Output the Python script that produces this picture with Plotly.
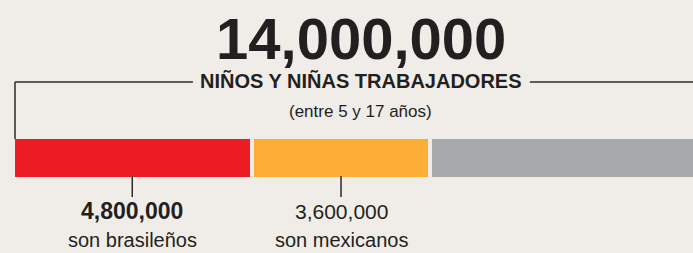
import plotly.graph_objects as go

# ---- data ----
total = 14_000_000
segments = ["Brasil", "México", "Resto"]
values = [4_800_000, 3_600_000, 5_600_000]
colors = ["#ED1C24", "#FBAE33", "#A7A8AA"]
total_label = "14,000,000"
subtitle = "NIÑOS Y NIÑAS TRABAJADORES"
subnote = "(entre 5 y 17 años)"
value_labels = ["4,800,000", "3,600,000"]
desc_labels = ["son brasileños", "son mexicanos"]
label_bold = [True, False]

BG = "#F0EDE8"
INK = "#231F20"
W, H = 693, 253
FONT = "Liberation Sans, Arial, sans-serif"

# scale (in millions)
vals_m = [v / 1e6 for v in values]
total_m = total / 1e6
x0_px, px_per = 13.0, 49.7
xrange = [-x0_px / px_per, (W - x0_px) / px_per]

# bar vertical placement: bar y=0, width 1 -> pixel 137..179
ycenter_px, px_per_y = 158.0, 42.0
yrange = [(ycenter_px - H) / px_per_y, ycenter_px / px_per_y]


def py(p):
    """pixel from top -> paper y"""
    return 1 - p / H


fig = go.Figure()
bases = []
acc = 0.0
for name, v, c in zip(segments, vals_m, colors):
    bases.append(acc)
    fig.add_trace(go.Bar(
        x=[v], y=[0], base=[acc], orientation="h", width=1,
        marker=dict(color=c, line=dict(color=BG, width=4)),
        name=name, hoverinfo="skip", showlegend=False,
    ))
    acc += v

centers = [b + v / 2 for b, v in zip(bases, vals_m)]

# bracket over the total (aligned with the visible bar edge)
edge = 2.0 / px_per
line_style = dict(color="#2A2A2A", width=1.5)
fig.add_shape(type="line", xref="x", yref="paper", x0=edge, x1=edge,
              y0=py(82), y1=py(139), line=line_style)
fig.add_shape(type="line", xref="x", yref="paper", x0=edge, x1=3.62,
              y0=py(82), y1=py(82), line=line_style)
fig.add_shape(type="line", xref="x", yref="paper", x0=10.4, x1=total_m,
              y0=py(82), y1=py(82), line=line_style)

# ticks beneath labelled bars
for cx in centers[:2]:
    fig.add_shape(type="line", xref="x", yref="paper", x0=cx, x1=cx,
                  y0=py(176), y1=py(197), line=line_style)

# title texts (centred on the middle of the total)
fig.add_annotation(x=total_m / 2, y=py(38), xref="x", yref="paper",
                   text=f"<b>{total_label}</b>", showarrow=False,
                   font=dict(family=FONT, size=58, color=INK),
                   yanchor="middle", xanchor="center")
fig.add_annotation(x=total_m / 2, y=py(81), xref="x", yref="paper",
                   text=f"<b>{subtitle}</b>", showarrow=False,
                   font=dict(family=FONT, size=20, color=INK),
                   yanchor="middle", xanchor="center")
fig.add_annotation(x=total_m / 2, y=py(111), xref="x", yref="paper",
                   text=subnote, showarrow=False,
                   font=dict(family=FONT, size=17, color=INK),
                   yanchor="middle", xanchor="center")

# bar labels
for cx, vl, dl, b in zip(centers, value_labels, desc_labels, label_bold):
    t = f"<b>{vl}</b>" if b else vl
    fig.add_annotation(x=cx, y=py(211), xref="x", yref="paper", text=t,
                       showarrow=False,
                       font=dict(family=FONT, size=23 if b else 21, color=INK),
                       yanchor="middle", xanchor="center")
    fig.add_annotation(x=cx, y=py(240), xref="x", yref="paper", text=dl,
                       showarrow=False, font=dict(family=FONT, size=20, color=INK),
                       yanchor="middle", xanchor="center")

fig.update_layout(
    width=W, height=H,
    margin=dict(l=0, r=0, t=0, b=0),
    paper_bgcolor=BG, plot_bgcolor=BG,
    barmode="overlay", bargap=0,
    xaxis=dict(range=xrange, visible=False, fixedrange=True),
    yaxis=dict(range=yrange, visible=False, fixedrange=True),
    showlegend=False,
)

fig.write_html(
    "out.html",
    config={"displayModeBar": False},
    post_script="document.body.style.margin='0px';document.body.style.overflow='hidden';",
)
